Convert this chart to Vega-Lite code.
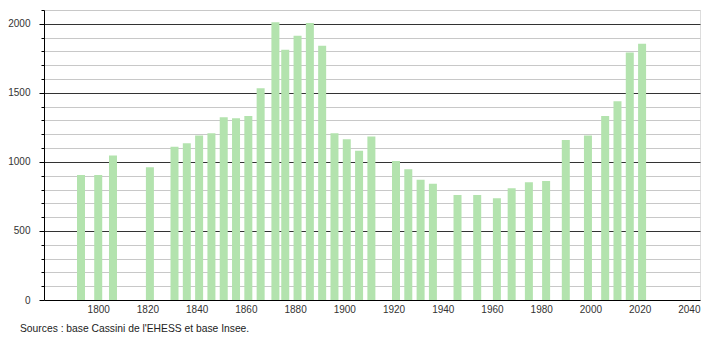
{
  "$schema": "https://vega.github.io/schema/vega-lite/v6.json",
  "width": 656,
  "height": 290,
  "autosize": {"type": "none"},
  "padding": {"left": 44, "top": 10, "right": 10, "bottom": 40},
  "background": "white",
  "title": {
    "text": "Sources : base Cassini de l'EHESS et base Insee.",
    "orient": "bottom",
    "anchor": "start",
    "frame": "group",
    "dx": -24,
    "offset": 10,
    "fontSize": 10.3,
    "font": "Liberation Sans",
    "fontWeight": "normal",
    "color": "#222"
  },
  "data": {
    "values": [
      {"year": 1793, "population": 906},
      {"year": 1800, "population": 905},
      {"year": 1806, "population": 1046},
      {"year": 1821, "population": 961},
      {"year": 1831, "population": 1109},
      {"year": 1836, "population": 1135},
      {"year": 1841, "population": 1191},
      {"year": 1846, "population": 1208},
      {"year": 1851, "population": 1324},
      {"year": 1856, "population": 1317},
      {"year": 1861, "population": 1333},
      {"year": 1866, "population": 1534},
      {"year": 1872, "population": 2012},
      {"year": 1876, "population": 1812},
      {"year": 1881, "population": 1913},
      {"year": 1886, "population": 2005},
      {"year": 1891, "population": 1841},
      {"year": 1896, "population": 1208},
      {"year": 1901, "population": 1164},
      {"year": 1906, "population": 1080},
      {"year": 1911, "population": 1184},
      {"year": 1921, "population": 1007},
      {"year": 1926, "population": 947},
      {"year": 1931, "population": 870},
      {"year": 1936, "population": 841},
      {"year": 1946, "population": 761},
      {"year": 1954, "population": 761},
      {"year": 1962, "population": 737},
      {"year": 1968, "population": 809},
      {"year": 1975, "population": 853},
      {"year": 1982, "population": 862},
      {"year": 1990, "population": 1159},
      {"year": 1999, "population": 1191},
      {"year": 2006, "population": 1333},
      {"year": 2011, "population": 1440},
      {"year": 2016, "population": 1792},
      {"year": 2021, "population": 1855}
    ]
  },
  "mark": {"type": "bar", "size": 8, "color": "#b3e3ae", "orient": "vertical"},
  "encoding": {
    "x": {
      "field": "year",
      "type": "quantitative",
      "scale": {"domain": [1780, 2042.5], "nice": false, "zero": false},
      "axis": {
        "title": null,
        "values": [1800, 1820, 1840, 1860, 1880, 1900, 1920, 1940, 1960, 1980, 2000, 2020, 2040],
        "format": "d",
        "grid": false,
        "ticks": false,
        "labelPadding": 4,
        "labelFontSize": 10,
        "labelFont": "Liberation Sans",
        "labelColor": "#333",
        "domainColor": "#000",
        "domainWidth": 1,
        "labelFlush": false,
        "labelOverlap": false
      }
    },
    "y": {
      "field": "population",
      "type": "quantitative",
      "scale": {"domain": [0, 2100], "nice": false},
      "axis": {
        "title": null,
        "values": [0, 100, 200, 300, 400, 500, 600, 700, 800, 900, 1000, 1100, 1200, 1300, 1400, 1500, 1600, 1700, 1800, 1900, 2000, 2100],
        "labelExpr": "datum.value % 500 === 0 ? datum.value : ''",
        "grid": true,
        "gridColor": {"condition": {"test": "datum.value % 500 === 0 && datum.value > 0", "value": "#333"}, "value": "#c8c8c8"},
        "gridWidth": 1,
        "tickSize": {"condition": {"test": "datum.value % 500 === 0", "value": 5}, "value": 3},
        "tickColor": "#000",
        "labelPadding": 9,
        "labelFontSize": 10,
        "labelFont": "Liberation Sans",
        "labelColor": "#333",
        "domainColor": "#000",
        "labelOverlap": false,
        "labelFlush": false
      }
    }
  }
}
